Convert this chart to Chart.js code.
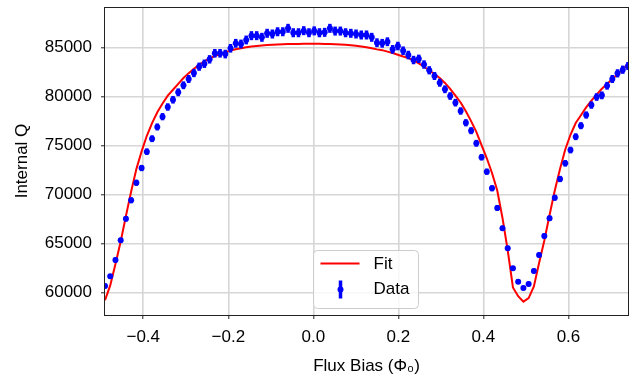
<!DOCTYPE html>
<html>
<head>
<meta charset="utf-8">
<script src="https://cdn.jsdelivr.net/npm/chart.js@4.4.0/dist/chart.umd.min.js"></script>
<style>
  body { margin: 0; background: #fff; }
</style>
</head>
<body>
<canvas id="myChart" width="633" height="377"></canvas>
<script>
// flux bias positions of the measured points (in units of Phi_0)
const xVals = [
  -0.4900, -0.4777, -0.4654, -0.4531, -0.4408, -0.4285, -0.4162, -0.4039, -0.3916, -0.3793,
  -0.3670, -0.3547, -0.3424, -0.3301, -0.3178, -0.3055, -0.2932, -0.2809, -0.2686, -0.2563,
  -0.2440, -0.2317, -0.2194, -0.2071, -0.1948, -0.1825, -0.1702, -0.1579, -0.1456, -0.1333,
  -0.1210, -0.1087, -0.0964, -0.0841, -0.0718, -0.0595, -0.0472, -0.0349, -0.0226, -0.0103,
  0.0020, 0.0143, 0.0266, 0.0389, 0.0512, 0.0635, 0.0758, 0.0881, 0.1004, 0.1127,
  0.1250, 0.1373, 0.1496, 0.1619, 0.1742, 0.1865, 0.1988, 0.2111, 0.2234, 0.2357,
  0.2480, 0.2603, 0.2726, 0.2849, 0.2972, 0.3095, 0.3218, 0.3341, 0.3464, 0.3587,
  0.3710, 0.3833, 0.3956, 0.4079, 0.4202, 0.4325, 0.4448, 0.4571, 0.4694, 0.4817,
  0.4940, 0.5063, 0.5186, 0.5309, 0.5432, 0.5555, 0.5678, 0.5801, 0.5924, 0.6047,
  0.6170, 0.6293, 0.6416, 0.6539, 0.6662, 0.6785, 0.6908, 0.7031, 0.7154, 0.7277,
  0.7400
];

// measured internal Q
const qData = [
  60640, 61630, 63300, 65310, 67520, 69400, 71200, 72700, 74370, 75700,
  76900, 77950, 78940, 79680, 80440, 81160, 81800, 82410, 83060, 83360,
  83810, 84430, 84430, 84350, 84940, 85450, 85380, 85790, 86230, 86230,
  86060, 86470, 86400, 86630, 86630, 86980, 86530, 86530, 86740, 86530,
  86720, 86530, 86570, 86980, 86700, 86700, 86530, 86470, 86400, 86300,
  86300, 86060, 85510, 85450, 85610, 84830, 85170, 84690, 84250, 83740,
  83860, 83280, 82690, 82110, 81420, 80750, 80060, 79380, 78530, 77330,
  76520, 75230, 73800, 72330, 70630, 68620, 66540, 64500, 62450, 61080,
  60440, 60850, 62180, 63810, 65750, 67560, 69670, 71580, 73180, 74540,
  75900, 77030, 78120, 79140, 79960, 80130, 81110, 81800, 82380, 82750,
  83130
];

// error bar half heights
const qErr = [
  230, 230, 250, 260, 280, 300, 310, 320, 340, 350,
  360, 370, 380, 390, 400, 400, 410, 420, 420, 430,
  430, 440, 440, 440, 440, 450, 450, 450, 460, 460,
  460, 460, 460, 460, 460, 460, 460, 460, 460, 460,
  460, 460, 460, 460, 460, 460, 460, 460, 460, 460,
  460, 460, 450, 450, 450, 440, 440, 440, 440, 430,
  430, 430, 420, 410, 410, 400, 390, 390, 380, 370,
  360, 350, 330, 320, 310, 290, 270, 260, 240, 230,
  220, 230, 240, 250, 270, 280, 300, 320, 330, 340,
  350, 360, 370, 380, 390, 400, 400, 410, 420, 420,
  420
];

// fitted curve, evaluated at the same flux points
const qFit = [
  59200, 60700, 62900, 65200, 67800, 70300, 72600, 74400, 76000, 77300,
  78400, 79300, 80100, 80700, 81300, 81900, 82400, 82850, 83250, 83600,
  83900, 84150, 84350, 84550, 84700, 84850, 84950, 85050, 85120, 85180,
  85230, 85270, 85300, 85330, 85350, 85370, 85380, 85390, 85400, 85400,
  85400, 85400, 85390, 85380, 85360, 85330, 85300, 85250, 85200, 85130,
  85050, 84950, 84830, 84750, 84600, 84450, 84280, 84100, 83950, 83700,
  83400, 83050, 82700, 82300, 81900, 81400, 80800, 80100, 79400, 78500,
  77500, 76400, 75050, 73700, 72200, 70400, 67600, 64300, 60500, 59600,
  59050, 59400, 60600, 63000, 65300, 67900, 70400, 72600, 74600, 76100,
  77300, 78100, 78900, 79600, 80200, 80800, 81300, 81800, 82300, 82800,
  83300
];

const xTicks = [-0.4, -0.2, 0.0, 0.2, 0.4, 0.6];
const yTicks = [60000, 65000, 70000, 75000, 80000, 85000];

const fontFamily = "'Liberation Sans', Arial, sans-serif";
Chart.defaults.font.family = fontFamily;
Chart.defaults.font.size = 17;
Chart.defaults.color = '#000';

// vertical error bars, drawn under the markers
const errorBars = {
  id: 'errorBars',
  beforeDatasetDraw(chart, args) {
    if (args.index !== 1) return;
    const {ctx, chartArea, scales: {x, y}} = chart;
    ctx.save();
    ctx.beginPath();
    ctx.rect(chartArea.left, chartArea.top, chartArea.width, chartArea.height);
    ctx.clip();
    ctx.strokeStyle = '#0000ff';
    ctx.lineWidth = 3.5;
    xVals.forEach((v, i) => {
      const px = x.getPixelForValue(v);
      ctx.beginPath();
      ctx.moveTo(px, y.getPixelForValue(qData[i] - qErr[i]));
      ctx.lineTo(px, y.getPixelForValue(qData[i] + qErr[i]));
      ctx.stroke();
    });
    ctx.restore();
  }
};

// box around the plot + legend in the lower centre
const frameAndLegend = {
  id: 'frameAndLegend',
  afterDraw(chart) {
    const {ctx, chartArea} = chart;
    ctx.save();
    ctx.strokeStyle = '#222';
    ctx.lineWidth = 1;
    ctx.strokeRect(chartArea.left - 0.5, chartArea.top + 0.5, chartArea.width + 1, chartArea.height);

    const w = 105, h = 58;
    const left = Math.round((chartArea.left + chartArea.right) / 2 - w / 2) - 0.5;
    const top = chartArea.bottom - 7 - h + 0.5;
    ctx.beginPath();
    ctx.roundRect(left, top, w, h, 4);
    ctx.fillStyle = 'rgba(255,255,255,0.8)';
    ctx.fill();
    ctx.strokeStyle = '#cccccc';
    ctx.stroke();

    // Fit
    ctx.strokeStyle = '#ff0000';
    ctx.lineWidth = 2;
    ctx.beginPath();
    ctx.moveTo(left + 7, top + 13);
    ctx.lineTo(left + 46, top + 13);
    ctx.stroke();
    // Data
    ctx.strokeStyle = '#0000ff';
    ctx.lineWidth = 3.5;
    ctx.beginPath();
    ctx.moveTo(left + 27, top + 30);
    ctx.lineTo(left + 27, top + 48);
    ctx.stroke();
    ctx.fillStyle = '#0000ff';
    ctx.beginPath();
    ctx.arc(left + 27, top + 39, 3, 0, Math.PI * 2);
    ctx.fill();

    ctx.fillStyle = '#000';
    ctx.font = '17px ' + fontFamily;
    ctx.textBaseline = 'middle';
    ctx.textAlign = 'left';
    ctx.fillText('Fit', left + 60, top + 14);
    ctx.fillText('Data', left + 60, top + 39);
    ctx.restore();
  }
};

const ctx = document.getElementById('myChart');
new Chart(ctx, {
  type: 'scatter',
  data: {
    datasets: [{
      label: 'Fit',
      data: xVals.map((x, i) => ({x: x, y: qFit[i]})),
      showLine: true,
      borderColor: '#ff0000',
      borderWidth: 2,
      pointRadius: 0,
      tension: 0,
      clip: 0,
      order: 2
    }, {
      label: 'Data',
      data: xVals.map((x, i) => ({x: x, y: qData[i]})),
      showLine: false,
      pointRadius: 3,
      pointBorderWidth: 0,
      backgroundColor: '#0000ff',
      borderColor: '#0000ff',
      clip: 0,
      order: 1
    }]
  },
  options: {
    responsive: false,
    animation: false,
    devicePixelRatio: 1,
    layout: { padding: {left: 0, right: 5, top: 7, bottom: 0} },
    plugins: {
      legend: { display: false },
      tooltip: { enabled: false }
    },
    scales: {
      x: {
        type: 'linear',
        min: -0.49,
        max: 0.74,
        afterFit: (scale) => {
          scale.height = 62;
          scale.paddingLeft = 0;
          scale.paddingRight = 0;
        },
        afterBuildTicks: (scale) => { scale.ticks = xTicks.map(v => ({value: v})); },
        border: { display: false },
        grid: { color: '#d6d6d6', lineWidth: 1.6, tickLength: 4, tickColor: '#222', tickWidth: 1 },
        ticks: {
          autoSkip: false,
          maxRotation: 0,
          padding: 8,
          callback: (v) => Math.abs(v) < 1e-9 ? '0.0' : (v < 0 ? '\u2212' : '') + Math.abs(v).toFixed(1)
        },
        title: { display: true, text: 'Flux Bias (\u03A6\u2080)', padding: {top: 0, bottom: 0} }
      },
      y: {
        type: 'linear',
        min: 57680,
        max: 89160,
        afterFit: (scale) => {
          scale.width = 105;
          scale.paddingTop = 0;
          scale.paddingBottom = 0;
        },
        afterBuildTicks: (scale) => { scale.ticks = yTicks.map(v => ({value: v})); },
        border: { display: false },
        grid: { color: '#d6d6d6', lineWidth: 1.6, tickLength: 4, tickColor: '#222', tickWidth: 1 },
        ticks: {
          autoSkip: false,
          padding: 9,
          callback: (v) => String(v)
        },
        title: { display: true, text: 'Internal Q', padding: {top: 12, bottom: 0} }
      }
    }
  },
  plugins: [errorBars, frameAndLegend]
});
</script>
</body>
</html>
